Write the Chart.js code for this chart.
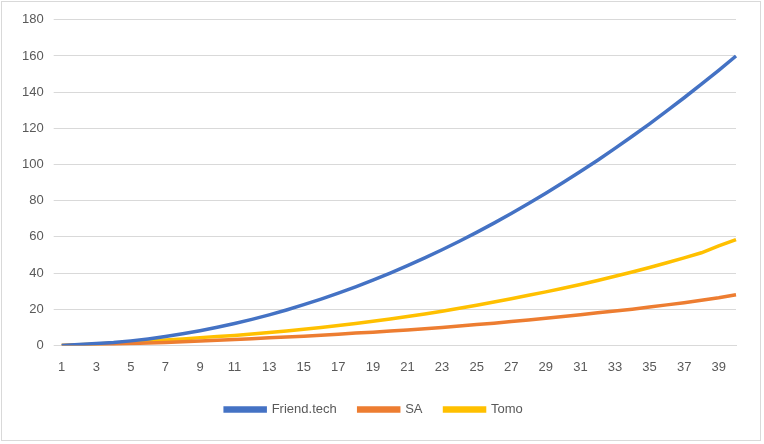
<!DOCTYPE html>
<html><head><meta charset="utf-8">
<script src="https://cdn.jsdelivr.net/npm/chart.js@4"></script>
<style>html,body{margin:0;padding:0;background:#fff}#w{position:absolute;left:1px;top:1px;width:760px;height:440px;border:1px solid #d9d9d9;box-sizing:border-box}</style>
</head><body><div id="w"><canvas id="c"></canvas></div>
<script>
const labels = Array.from({length:40},(_,i)=>String(i+1));
const friendTech = [0,0.5,1,1.6,2.5,3.6,4.9,6.4,8.1,10,12.1,14.4,16.9,19.6,22.5,25.6,28.9,32.4,36.1,40,44.1,48.4,52.9,57.6,62.5,67.6,72.9,78.4,84.1,90,96.1,102.4,108.9,115.6,122.5,129.6,136.9,144.4,152.1,160];
const sa = [0,0.2,0.4,0.7,1,1.3,1.6,2,2.4,2.8,3.3,3.7,4.2,4.6,5.1,5.6,6.2,6.8,7.3,7.9,8.5,9.2,9.9,10.7,11.5,12.3,13.2,14.1,15,16,17,18,19,20,21.2,22.4,23.6,24.9,26.3,28];
const tomo = [0,0.4,0.8,1.3,1.8,2.4,3,3.6,4.3,4.9,5.5,6.3,7.1,8,8.9,9.9,11,12.1,13.3,14.6,16,17.4,18.9,20.5,22.2,24,25.8,27.7,29.6,31.6,33.7,35.9,38.2,40.6,43.1,45.7,48.4,51.2,55,58.5];
new Chart(document.getElementById('c'),{type:'line',
data:{labels,datasets:[
{label:'Friend.tech',data:friendTech,borderColor:'#4472C4',backgroundColor:'#4472C4',borderWidth:3.5,pointRadius:0,tension:0},
{label:'SA',data:sa,borderColor:'#ED7D31',backgroundColor:'#ED7D31',borderWidth:3.5,pointRadius:0,tension:0},
{label:'Tomo',data:tomo,borderColor:'#FFC000',backgroundColor:'#FFC000',borderWidth:3.5,pointRadius:0,tension:0}]},
options:{responsive:true,maintainAspectRatio:false,animation:false,
layout:{padding:{left:10,right:24,top:16,bottom:14}},
plugins:{legend:{position:'bottom',labels:{boxWidth:40,boxHeight:3,font:{family:'Liberation Sans',size:13},color:'#595959',padding:22}},tooltip:{enabled:false}},
scales:{x:{offset:false,grid:{display:false},border:{color:'#d9d9d9'},ticks:{autoSkip:false,maxRotation:0,color:'#595959',padding:6,font:{family:'Liberation Sans',size:13},callback:(v,i)=>i%2===0?labels[i]:''}},
y:{min:0,max:180,grid:{color:'#d9d9d9'},border:{display:false},ticks:{stepSize:20,color:'#595959',font:{family:'Liberation Sans',size:13},padding:10}}}}});
</script></body></html>
